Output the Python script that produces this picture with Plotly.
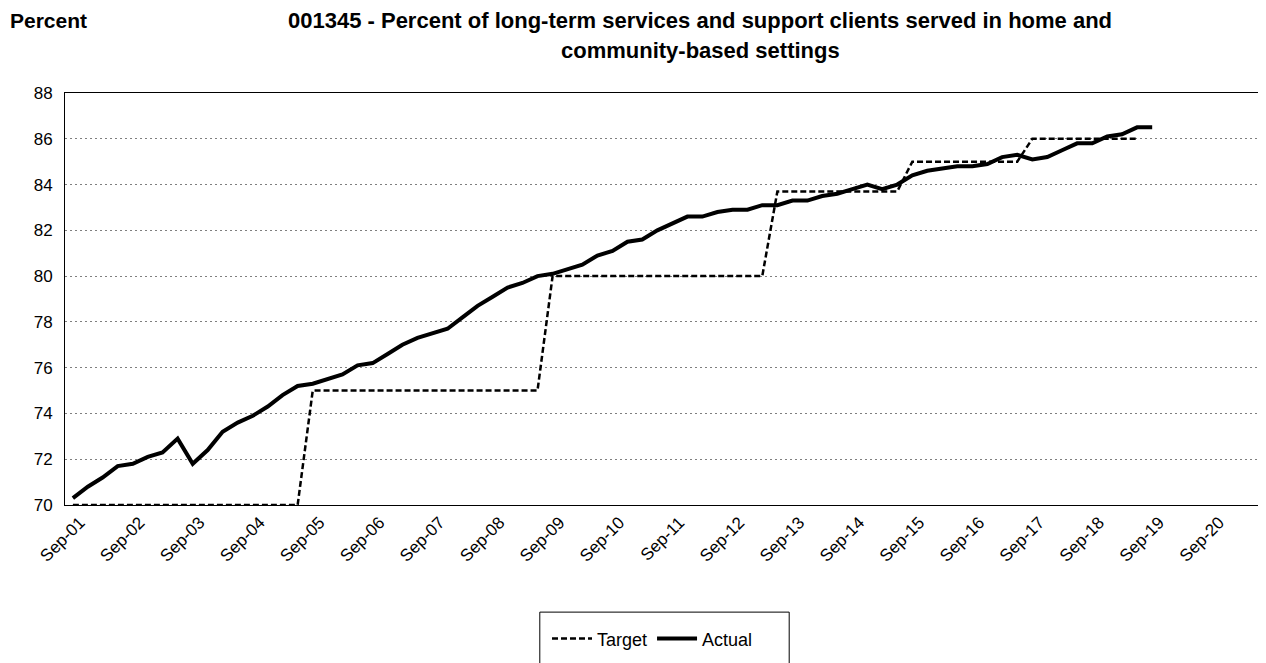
"""Percent of LTSS clients served in home and community-based settings."""
import pandas as pd
import plotly.graph_objects as go

# quarterly observations, Sep-01 .. Sep-19
quarters = pd.date_range("2001-09-01", "2019-09-01", freq="3MS").strftime("%Y-%m-%d").tolist()

actual = [
    70.3, 70.8, 71.2, 71.7, 71.8, 72.1, 72.3, 72.9, 71.8, 72.4,
    73.2, 73.6, 73.9, 74.3, 74.8, 75.2, 75.3, 75.5, 75.7, 76.1,
    76.2, 76.6, 77.0, 77.3, 77.5, 77.7, 78.2, 78.7, 79.1, 79.5,
    79.7, 80.0, 80.1, 80.3, 80.5, 80.9, 81.1, 81.5, 81.6, 82.0,
    82.3, 82.6, 82.6, 82.8, 82.9, 82.9, 83.1, 83.1, 83.3, 83.3,
    83.5, 83.6, 83.8, 84.0, 83.8, 84.0, 84.4, 84.6, 84.7, 84.8,
    84.8, 84.9, 85.2, 85.3, 85.1, 85.2, 85.5, 85.8, 85.8, 86.1,
    86.2, 86.5, 86.5,
]

# target steps (ends one quarter before actual)
target = (
    [70.0] * 16
    + [75.0] * 16
    + [80.0] * 15
    + [83.7] * 9
    + [85.0] * 8
    + [86.0] * 8
)

y_ticks = [70, 72, 74, 76, 78, 80, 82, 84, 86, 88]

title_line1 = "001345 - Percent of long-term services and support clients served in home and"
title_line2 = "community-based settings"

FONT = "Arial, Liberation Sans, sans-serif"

fig = go.Figure()
fig.add_trace(go.Scatter(
    x=quarters[:len(target)], y=target, name="Target", mode="lines",
    line=dict(color="black", width=2.5, dash="6px,3px"),
))
fig.add_trace(go.Scatter(
    x=quarters, y=actual, name="Actual", mode="lines",
    line=dict(color="black", width=4),
))

fig.update_xaxes(
    type="date",
    range=["2001-07-15", "2021-07-13"],
    tick0="2001-09-01", dtick="M12", tickformat="%b-%y",
    tickangle=-45, tickfont=dict(size=17, color="black"),
    ticklabelshift=7,
    showgrid=False, showline=True, linecolor="black", linewidth=1, mirror=True,
    ticks="", zeroline=False,
)
fig.update_yaxes(
    range=[70, 88], tickvals=y_ticks,
    tickfont=dict(size=17, color="black"),
    showgrid=True, gridcolor="#7f7f7f", griddash="2px,3px", gridwidth=1,
    showline=True, linecolor="black", linewidth=1, mirror=True,
    ticks="", ticklabelstandoff=8, zeroline=False,
)

# headings
fig.add_annotation(
    text="<b>Percent</b>", xref="paper", yref="paper",
    x=-0.0475, y=1.177, xanchor="left", yanchor="middle", showarrow=False,
    font=dict(size=21, color="black", family=FONT),
)
fig.add_annotation(
    text=f"<b>{title_line1}</b>", xref="paper", yref="paper",
    x=0.53, y=1.177, xanchor="center", yanchor="middle", showarrow=False,
    font=dict(size=22, color="black", family=FONT),
)
fig.add_annotation(
    text=f"<b>{title_line2}</b>", xref="paper", yref="paper",
    x=0.53, y=1.104, xanchor="center", yanchor="middle", showarrow=False,
    font=dict(size=22, color="black", family=FONT),
)

# legend frame
fig.add_shape(
    type="rect", xref="paper", yref="paper",
    x0=0.396, x1=0.604, y0=-0.26, y1=-0.40,
    line=dict(color="black", width=1), fillcolor="white", layer="below",
)

# page body has an 8px margin, so the figure is shrunk by that much
fig.update_layout(
    width=1258, height=655,
    margin=dict(l=57, r=2, t=85, b=158),
    paper_bgcolor="white", plot_bgcolor="white",
    font=dict(family=FONT, size=17, color="black"),
    showlegend=True,
    legend=dict(
        orientation="h", x=0.490, xanchor="center", y=-0.325, yanchor="middle",
        borderwidth=0, bgcolor="rgba(0,0,0,0)",
        font=dict(size=18), itemwidth=40,
    ),
)

fig.write_html("out.html")
